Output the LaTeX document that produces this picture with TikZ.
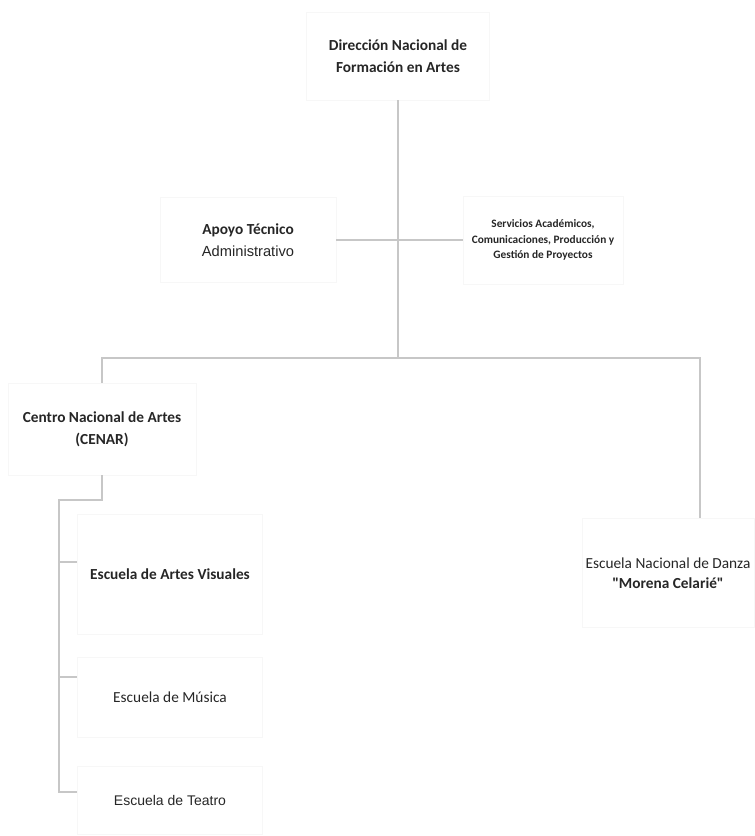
\documentclass[tikz,border=0pt]{standalone}
\usepackage{fontspec}
\setmainfont{Carlito}[Ligatures=TeXOff]
\newfontfamily\arialfont{Liberation Sans}
\usetikzlibrary{positioning}

\begin{document}
\begin{tikzpicture}[
  x=0.75pt,y=-0.75pt,
  unit/.style={draw=black!3,line width=0.6pt,align=center,text=black!85,
    inner sep=0pt,font=\fontsize{11.5}{16.5}\selectfont},
  link/.style={draw=black!22,line width=0.8pt}
]
  \useasboundingbox (0,0) rectangle (754,836);

  % direccion and staff units
  \node[unit,minimum width=137pt,minimum height=66pt] (dir) at (398,56)
    {\textbf{Dirección Nacional de}\\\textbf{Formación en Artes}};
  \node[unit,minimum width=132pt,minimum height=64pt] (apoyo) at (248,240)
    {\textbf{Apoyo Técnico}\\{\arialfont\fontsize{11}{16}\selectfont Administrativo}};
  \node[unit,minimum width=120pt,minimum height=66pt,
    font=\fontsize{8.5}{11.5}\selectfont] (serv) at (543,240)
    {\textbf{Servicios Académicos,}\\\textbf{Comunicaciones, Producción y}\\\textbf{Gestión de Proyectos}};

  % schools
  \node[unit,minimum width=141pt,minimum height=69pt] (cenar) at (102,429)
    {\textbf{Centro Nacional de Artes}\\\textbf{(CENAR)}};
  \node[unit,minimum width=139pt,minimum height=90pt] (artes) at (170,574)
    {\textbf{Escuela de Artes Visuales}};
  \node[unit,minimum width=139pt,minimum height=60pt] (musica) at (170,697)
    {Escuela de Música};
  \node[unit,minimum width=139pt,minimum height=51pt] (teatro) at (170,800)
    {{\arialfont\fontsize{10.5}{15}\selectfont Escuela de Teatro}};
  \node[unit,minimum width=129pt,minimum height=82pt,
    font=\fontsize{11.5}{15}\selectfont] (danza) at (668,573)
    {Escuela Nacional de Danza\\\textbf{"Morena Celarié"}};

  \coordinate (bus) at (398,358);
  \coordinate (spine) at (59,500);
  \coordinate (artesIn) at ([yshift=9pt]artes.west);
  \coordinate (musicaIn) at ([yshift=15pt]musica.west);
  \coordinate (teatroIn) at ([yshift=6pt]teatro.west);

  \draw[link] (dir.south) -- (bus);
  \draw[link] (apoyo.east) -- (serv.west);
  \draw[link] (bus) -| (cenar.north);
  \draw[link] (bus) -| ([xshift=24pt]danza.north);
  \draw[link] (cenar.south) |- (spine) |- (teatroIn);
  \draw[link] (spine |- artesIn) -- (artesIn);
  \draw[link] (spine |- musicaIn) -- (musicaIn);
\end{tikzpicture}
\end{document}
